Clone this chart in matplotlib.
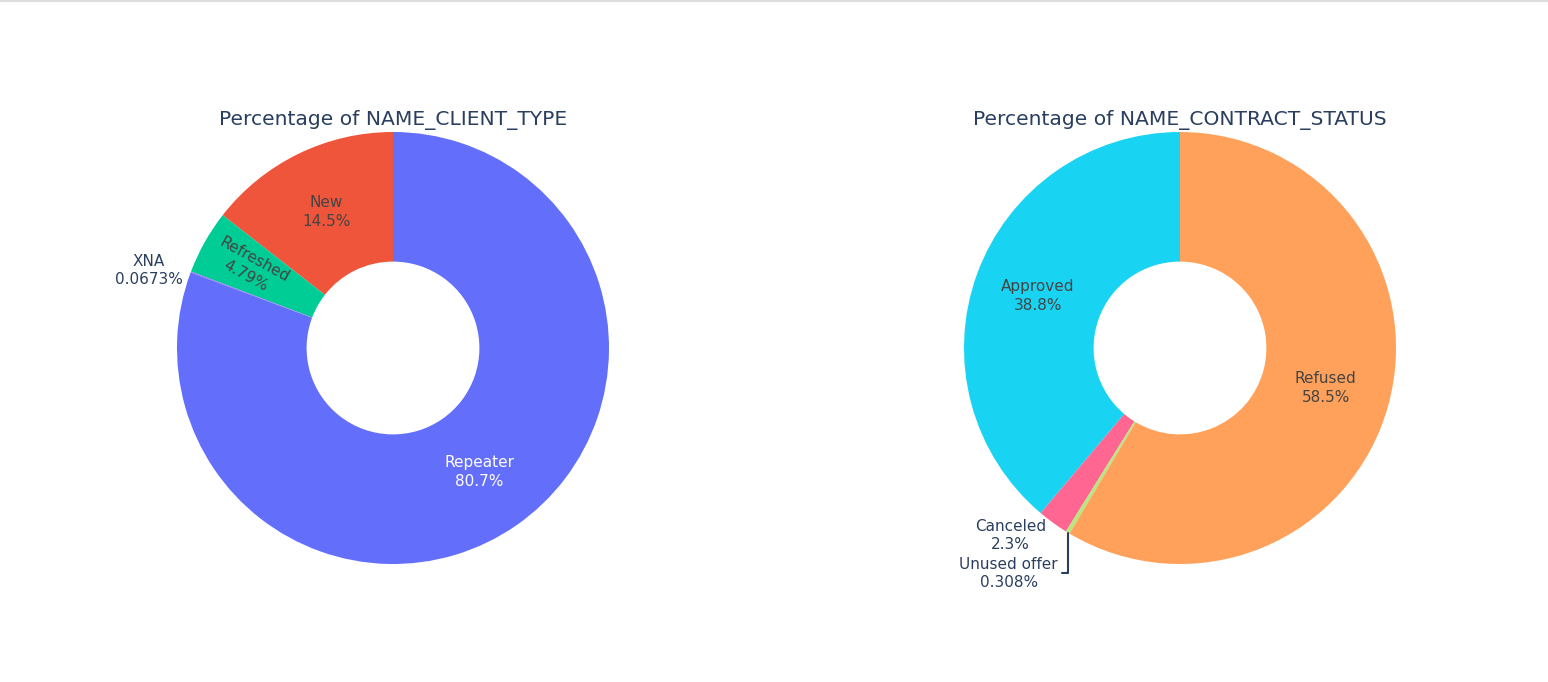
import numpy as np
import matplotlib
matplotlib.use('Agg')
import matplotlib.pyplot as plt
from matplotlib.lines import Line2D

# data in percent (counter-clockwise order from 12 o'clock, as in the picture)
client_labels = ['New', 'Refreshed', 'XNA', 'Repeater']
client_values = [14.46, 4.786, 0.0673, 80.6867]
client_colors = ['#EF553B', '#00CC96', '#AB63FA', '#636EFA']

status_labels = ['Approved', 'Canceled', 'Unused offer', 'Refused']
status_values = [38.84, 2.304, 0.308, 58.548]
status_colors = ['#19D3F3', '#FF6692', '#B6E880', '#FFA15A']

TITLE_COLOR = '#2a3f5f'
DARK_TEXT = '#444444'
W, H = 1548, 682
FS = 11
LS = 1.3


def draw_donut(ax, labels, values, colors, title, inside, outside):
    total = sum(values)
    wedges, _ = ax.pie(values, colors=colors, startangle=90, counterclock=True,
                       radius=1.0, wedgeprops=dict(width=0.6, linewidth=0))
    ax.set_xlim(-1, 1)
    ax.set_ylim(-1, 1)
    ax.text(0, 1.056, title, ha='center', va='center', fontsize=14.6,
            color=TITLE_COLOR, clip_on=False)
    for w, lab, val in zip(wedges, labels, values):
        mid = np.deg2rad((w.theta1 + w.theta2) / 2.0)
        txt = '{}\n{:.3g}%'.format(lab, 100.0 * val / total)
        if lab in inside:
            r, rot, col = inside[lab]
            ax.text(r * np.cos(mid), r * np.sin(mid), txt, ha='center', va='center',
                    rotation=rot, rotation_mode='anchor', fontsize=FS, color=col,
                    linespacing=LS, multialignment='center')
        elif lab in outside:
            off, va, line = outside[lab]
            xy = (np.cos(mid), np.sin(mid))
            kw = dict(xy=xy, xytext=off, textcoords='offset points', ha='right', va=va,
                      fontsize=FS, color=TITLE_COLOR, linespacing=LS,
                      multialignment='center', annotation_clip=False)
            if line:
                kw['arrowprops'] = dict(arrowstyle='-', color=TITLE_COLOR, lw=1.5,
                                        shrinkA=1, shrinkB=0, relpos=(1, 0.5),
                                        connectionstyle='angle,angleA=0,angleB=90,rad=0')
            ax.annotate(txt, **kw)


fig = plt.figure(figsize=(W / 100, H / 100), dpi=100)
fig.patch.set_facecolor('white')

R = 216
ax1 = fig.add_axes([(393 - R) / W, (H - 348 - R) / H, 2 * R / W, 2 * R / H])
ax2 = fig.add_axes([(1180 - R) / W, (H - 348 - R) / H, 2 * R / W, 2 * R / H])

draw_donut(ax1, client_labels, client_values, client_colors,
           'Percentage of NAME_CLIENT_TYPE',
           inside={'New': (0.7, 0, DARK_TEXT),
                   'Refreshed': (0.76, -29, DARK_TEXT),
                   'Repeater': (0.7, 0, 'white')},
           outside={'XNA': ((-6, 1), 'center', False)})

draw_donut(ax2, status_labels, status_values, status_colors,
           'Percentage of NAME_CONTRACT_STATUS',
           inside={'Approved': (0.7, 0, DARK_TEXT),
                   'Refused': (0.7, 0, DARK_TEXT)},
           outside={'Canceled': ((-5, 3), 'top', False),
                    'Unused offer': ((-7, -29.5), 'center', True)})

# thin grey border line at the top of the screenshot
fig.add_artist(Line2D([0, 1], [1 - 1.0 / H, 1 - 1.0 / H], color='#dddddd', lw=1.5,
                      transform=fig.transFigure))

fig.savefig('out.png', dpi=100, facecolor='white')
